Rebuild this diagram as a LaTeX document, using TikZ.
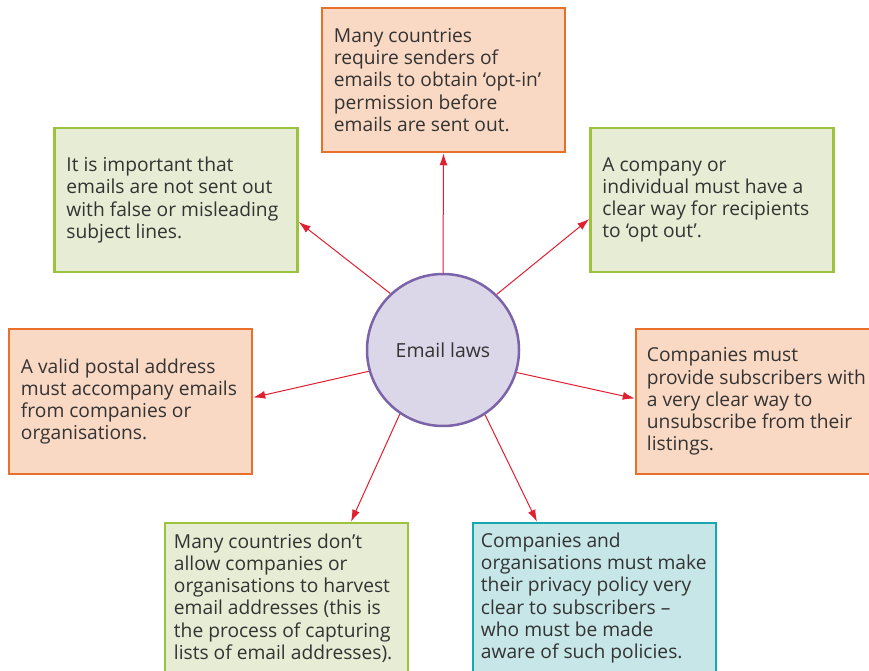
\documentclass[tikz,border=0pt]{standalone}
\usepackage{fontspec}
\setmainfont{Open Sans}
\usetikzlibrary{arrows.meta}
\definecolor{obord}{HTML}{E8702A}
\definecolor{ofill}{HTML}{FAD9C4}
\definecolor{gbord}{HTML}{9DC23D}
\definecolor{gfill}{HTML}{E6EDD4}
\definecolor{cbord}{HTML}{1AA8B0}
\definecolor{cfill}{HTML}{C7E6E8}
\definecolor{pbord}{HTML}{7B63A9}
\definecolor{pfill}{HTML}{DCD6E9}
\definecolor{txt}{HTML}{333333}
\definecolor{arr}{HTML}{E02030}
\begin{document}
\begin{tikzpicture}[x=1pt,y=-1pt,
  lawbox/.style={draw, line width=2.5pt, rectangle, minimum width=243pt, minimum height=144pt, inner sep=0pt},
  obox/.style={lawbox, draw=obord, fill=ofill},
  gbox/.style={lawbox, draw=gbord, fill=gfill},
  cbox/.style={lawbox, draw=cbord, fill=cfill},
  lawtext/.style={anchor=west, align=left, inner sep=0pt, text=txt,
    font=\fontsize{19.2}{22.2}\selectfont},
  link/.style={draw=arr, line width=1pt, -{Latex[length=12pt,width=8pt]}}]
\useasboundingbox (0,0) rectangle (869,671);
\fill[white] (0,0) rectangle (869,671);
\node[circle, draw=pbord, fill=pfill, line width=2.5pt, minimum size=152pt, inner sep=0pt,
  text=txt, font=\fontsize{19.4}{22}\selectfont] (c) at (443,350) {Email laws};
\node[obox] (top) at (443.5,80) {};
\node[gbox] (tl) at (176,200) {};
\node[gbox] (tr) at (712,200) {};
\node[obox, minimum height=145pt] (lf) at (130.5,401.5) {};
\node[obox, minimum height=145pt] (rt) at (757.5,401.5) {};
\node[gbox, minimum height=150pt] (bl) at (286.5,598) {};
\node[cbox, minimum height=150pt] (br) at (594.5,598) {};
\node[lawtext] (ttop) at ([xshift=13pt]top.west) {Many countries\\require senders of\\emails to obtain ‘opt-in’\\permission before\\emails are sent out.};
\node[lawtext] (ttl) at ([xshift=13pt]tl.west) {It is important that\\emails are not sent out\\with false or misleading\\subject lines.};
\node[lawtext] (ttr) at ([xshift=13pt]tr.west) {A company or\\individual must have a\\clear way for recipients\\to ‘opt out’.};
\node[lawtext] (tlf) at ([xshift=13pt]lf.west) {A valid postal address\\must accompany emails\\from companies or\\organisations.};
\node[lawtext] (trt) at ([xshift=12pt]rt.west) {Companies must\\provide subscribers with\\a very clear way to\\unsubscribe from their\\listings.};
\node[lawtext] (tbl) at ([xshift=10pt]bl.west) {Many countries don’t\\allow companies or\\organisations to harvest\\email addresses (this is\\the process of capturing\\lists of email addresses).};
\node[lawtext] (tbr) at ([xshift=9pt]br.west) {Companies and\\organisations must make\\their privacy policy very\\clear to subscribers –\\who must be made\\aware of such policies.};
\draw[link] (c.90) -- (top.south);
\draw[link] (c.133) -- ([yshift=-22pt]tl.east);
\draw[link] (c.46) -- ([yshift=-19pt]tr.west);
\draw[link] (c.196.6) -- ([yshift=4pt]lf.east);
\draw[link] (c.343.6) -- ([yshift=3pt]rt.west);
\draw[link] (c.236.7) -- ([xshift=64.5pt]bl.north);
\draw[link] (c.303.9) -- ([xshift=-57.5pt]br.north);
\end{tikzpicture}
\end{document}
